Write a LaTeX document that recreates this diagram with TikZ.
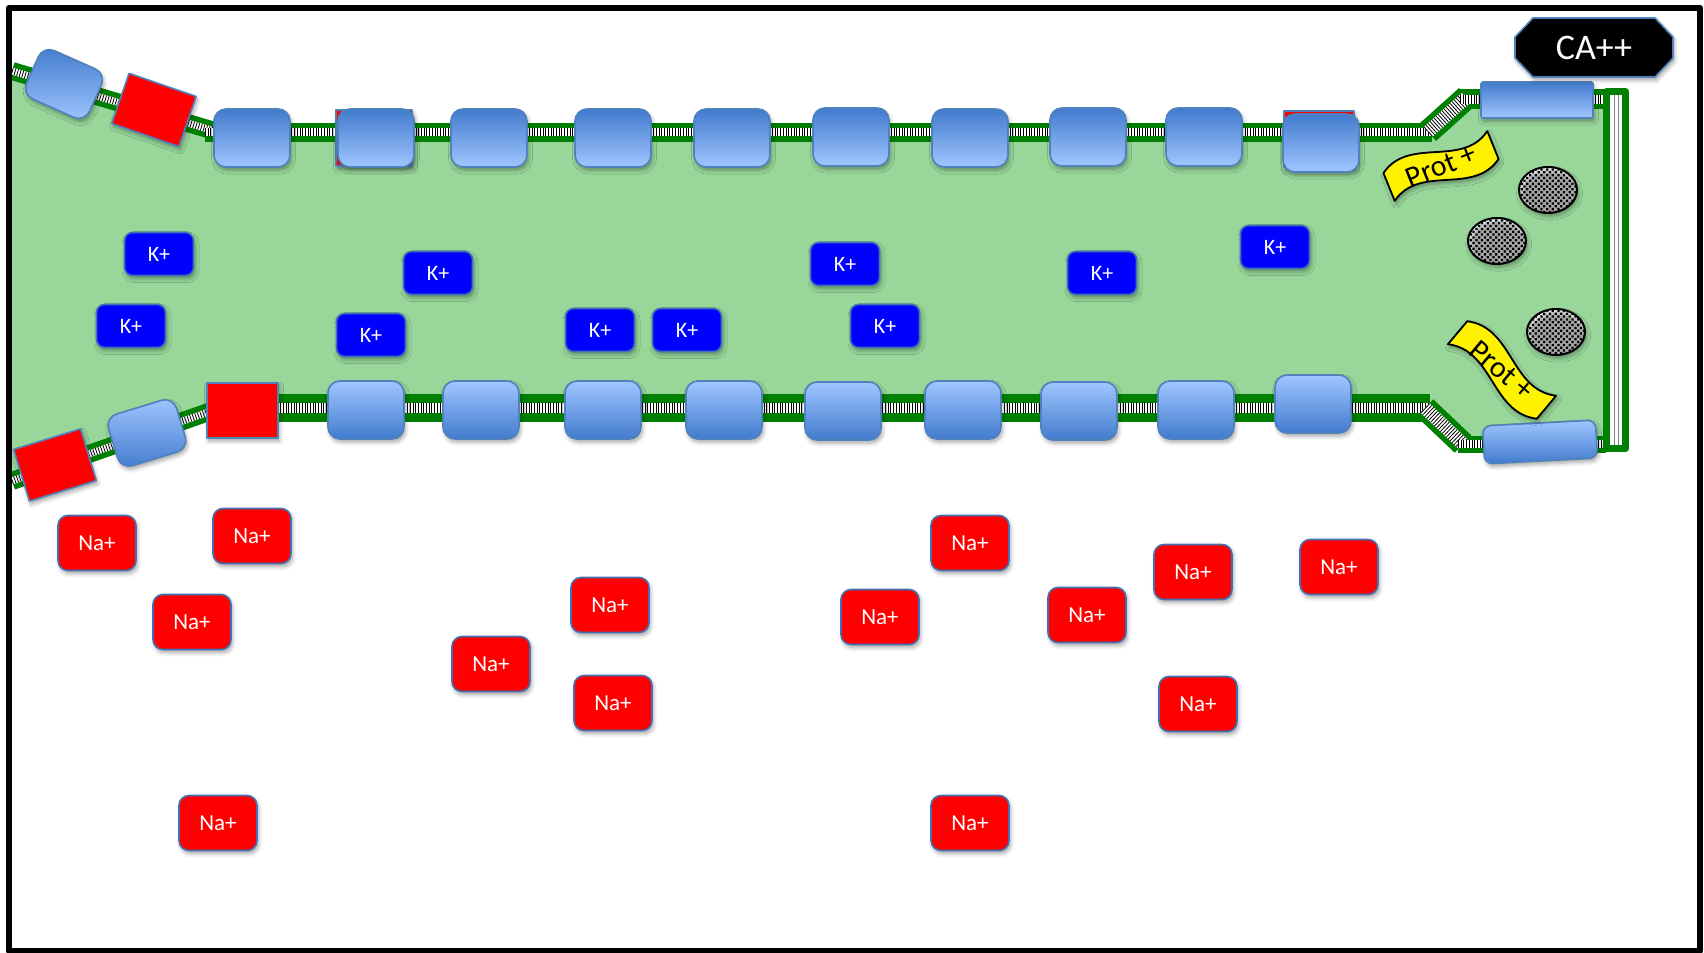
\documentclass[tikz,border=0pt]{standalone}
\usepackage{fontspec}
\setmainfont{Carlito}
\usetikzlibrary{shapes.geometric,patterns.meta,shadows.blur}

\definecolor{cellgreen}{RGB}{152,214,154}
\definecolor{memgreen}{RGB}{0,128,0}
\definecolor{chanedge}{RGB}{79,129,189}
\definecolor{chantop}{RGB}{66,123,206}
\definecolor{chanbot}{RGB}{160,198,255}
\definecolor{ionedge}{RGB}{65,113,180}

% lipid bilayer: green sheath, then striped core
\newcommand\memsheath[2]{\draw[memgreen, line width=#2] #1;}
\newcommand\memcore[2]{%
  \draw[white, line width=#2] #1;
  \draw[black, line width=#2, dash pattern=on 0.4pt off 0.95pt] #1;}

\tikzset{
  softshadow/.style={blur shadow={shadow xshift=0.8pt, shadow yshift=-1.6pt,
      shadow blur radius=2pt, shadow opacity=35}},
  chandown/.style={draw=chanedge, line width=0.8pt, rounded corners=6pt,
      top color=chantop, bottom color=chanbot, inner sep=0pt,
      minimum width=38pt, minimum height=29pt, softshadow},
  chanup/.style={chandown, top color=chanbot, bottom color=chantop},
  pump/.style={draw=chanedge, line width=0.8pt, fill=red, inner sep=0pt, softshadow},
  kion/.style={draw=ionedge, line width=0.8pt, fill=blue, rounded corners=4pt,
      minimum width=34.5pt, minimum height=21.5pt, inner sep=0pt, text=white,
      font=\fontsize{11}{13}\selectfont, softshadow},
  naion/.style={draw=ionedge, line width=0.8pt, fill=red, rounded corners=5pt,
      minimum width=39pt, minimum height=27.5pt, inner sep=0pt, text=white,
      font=\fontsize{11.5}{13}\selectfont, softshadow},
  granule/.style={ellipse, draw=black, line width=1pt, minimum width=29pt,
      minimum height=23pt, inner sep=0pt,
      preaction={fill=white},
      pattern={Dots[distance=2pt, radius=0.8pt, angle=45]}, pattern color=black,
      softshadow},
  banner/.style={draw=black, line width=0.9pt, fill=yellow, softshadow},
  bannertext/.style={inner sep=0pt, font=\fontsize{15}{17}\selectfont},
  calabel/.style={inner sep=0pt, text=white, font=\fontsize{18}{20}\selectfont},
  plate/.style={draw=chanedge, line width=0.8pt, fill=black, softshadow},
}

\begin{document}
\begin{tikzpicture}[x=0.5pt, y=-0.5pt, line join=round]
\useasboundingbox (0,0) rectangle (1704,953);

% cytoplasm
\fill[cellgreen] (12,71) -- (216,132) -- (1428,132) -- (1466,97) -- (1610,97)
  -- (1610,444) -- (1462,444) -- (1428,408) -- (216,408) -- (12,481) -- cycle;

% membrane sheath
\memsheath{(12,71) -- (218,132)}{9pt}
\memsheath{(205,132) -- (1432,132)}{9.5pt}
\memsheath{(1428,132) -- (1467,97)}{12pt}
\memsheath{(1460,99) -- (1606,99)}{10pt}
\memsheath{(12,481) -- (220,408)}{9pt}
\memsheath{(210,408) -- (1430,408)}{14pt}
\memsheath{(1425,408) -- (1463,444)}{12pt}
\memsheath{(1458,444) -- (1606,444)}{8.5pt}
% membrane core
\memcore{(12,71) -- (218,132)}{3.5pt}
\memcore{(205,132) -- (1432,132)}{4pt}
\memcore{(1428,132) -- (1467,97)}{6.5pt}
\memcore{(1460,99) -- (1606,99)}{4.5pt}
\memcore{(12,481) -- (220,408)}{3.5pt}
\memcore{(210,408) -- (1430,408)}{5pt}
\memcore{(1425,408) -- (1463,444)}{6.5pt}
\memcore{(1458,444) -- (1606,444)}{4pt}

% end wall
\draw[memgreen, line width=3.5pt, fill=white] (1606.5,91.5) rectangle (1625.5,448.5);
\draw[gray, line width=0.5pt] (1614,95) -- (1614,445) (1618,95) -- (1618,445);

% pumps and channels, upper membrane
\node[pump, minimum width=38pt, minimum height=28pt] (r2) at (374,138) {};
\node[pump, minimum width=35pt, minimum height=28pt] (r10) at (1319,139) {};
\node[chandown] (c1) at (252,138) {};
\node[chandown] (c2) at (376,138) {};
\node[chandown] (c3) at (489,138) {};
\node[chandown] (c4) at (613,138) {};
\node[chandown] (c5) at (732,138) {};
\node[chandown] (c6) at (851,137) {};
\node[chandown] (c7) at (970,138) {};
\node[chandown] (c8) at (1088,137) {};
\node[chandown] (c9) at (1204,137) {};
\node[chandown] (c10) at (1321,143) {};
\node[chandown, rotate=-24, minimum width=34.5pt, minimum height=26.5pt] (cl1) at (64,84) {};
\node[pump, rotate=-19, minimum width=35.5pt, minimum height=26.5pt] (pl1) at (154,110) {};
\node[chandown, rounded corners=1pt, minimum width=56pt, minimum height=18pt] (cr1) at (1537,100) {};

% pumps and channels, lower membrane
\node[pump, minimum width=35.5pt, minimum height=27.5pt] (pb) at (242.5,410.5) {};
\node[pump, rotate=17, minimum width=35pt, minimum height=27pt] (pl2) at (55,465) {};
\node[chanup, rotate=17, minimum width=35.5pt, minimum height=27pt] (cl2) at (147,433) {};
\node[chanup] (b1) at (366,410) {};
\node[chanup] (b2) at (481,410) {};
\node[chanup] (b3) at (603,410) {};
\node[chanup] (b4) at (724,410) {};
\node[chanup] (b5) at (843,411) {};
\node[chanup] (b6) at (963,410) {};
\node[chanup] (b7) at (1079,411) {};
\node[chanup] (b8) at (1196,410) {};
\node[chanup] (b9) at (1313,404) {};
\node[chanup, rotate=3, rounded corners=4pt, minimum width=56.5pt, minimum height=19pt] (cr2) at (1540,442) {};

% potassium inside
\node[kion] (k1) at (159,254) {K+};
\node[kion] (k2) at (131,326) {K+};
\node[kion] (k3) at (438,273) {K+};
\node[kion] (k4) at (371,335) {K+};
\node[kion] (k5) at (600,330) {K+};
\node[kion] (k6) at (687,330) {K+};
\node[kion] (k7) at (845,264) {K+};
\node[kion] (k8) at (885,326) {K+};
\node[kion] (k9) at (1102,273) {K+};
\node[kion] (k10) at (1275,247) {K+};

% sodium outside
\node[naion] (n1) at (97,543) {Na+};
\node[naion] (n2) at (252,536) {Na+};
\node[naion] (n3) at (192,622) {Na+};
\node[naion] (n4) at (218,823) {Na+};
\node[naion] (n5) at (491,664) {Na+};
\node[naion] (n6) at (610,605) {Na+};
\node[naion] (n7) at (613,703) {Na+};
\node[naion] (n8) at (880,617) {Na+};
\node[naion] (n9) at (970,543) {Na+};
\node[naion] (n10) at (970,823) {Na+};
\node[naion] (n11) at (1087,615) {Na+};
\node[naion] (n12) at (1193,572) {Na+};
\node[naion] (n13) at (1198,704) {Na+};
\node[naion] (n14) at (1339,567) {Na+};

% vesicles
\node[granule] (g1) at (1548,190) {};
\node[granule] (g2) at (1497,241) {};
\node[granule] (g3) at (1556,332) {};

% positively charged proteins
\begin{scope}[shift={(1441,166)}, rotate=22]
  \path[banner] (-56,-15) .. controls (-19,-40) and (19,10) .. (56,-15) -- (56,15)
    .. controls (19,40) and (-19,-10) .. (-56,15) -- cycle;
  \node[bannertext, rotate=22] (pr1) at (0,0) {Prot +};
\end{scope}
\begin{scope}[shift={(1502,370)}, rotate=-40]
  \path[banner] (-58,-15) .. controls (-19,-40) and (19,10) .. (58,-15) -- (58,15)
    .. controls (19,40) and (-19,-10) .. (-58,15) -- cycle;
  \node[bannertext, rotate=-40] (pr2) at (0,0) {Prot +};
\end{scope}

% calcium label
\path[plate] (1533,18) -- (1655,18) -- (1673,37) -- (1673,58) -- (1655,77)
  -- (1533,77) -- (1515,58) -- (1515,37) -- cycle;
\node[calabel] (ca) at (1594,47.5) {CA++};

% frame
\draw[black, line width=3.25pt] (9,8) rectangle (1700,951);
\end{tikzpicture}
\end{document}
